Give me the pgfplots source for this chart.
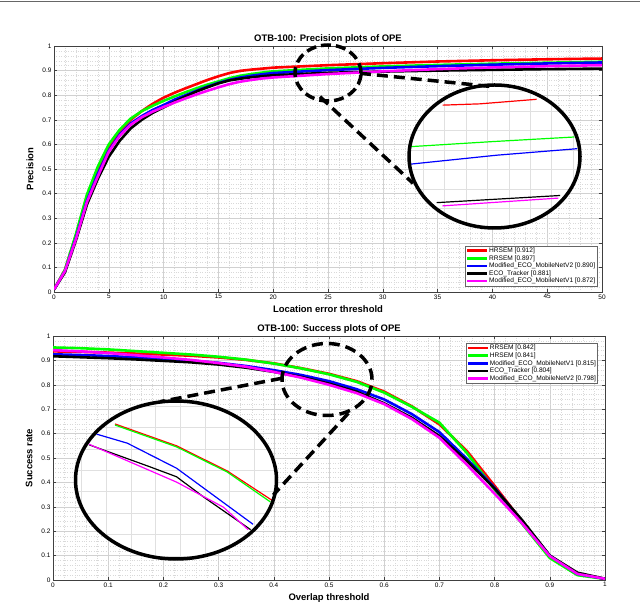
\documentclass[border=0pt]{standalone}
\usepackage{fontspec}
\setmainfont{Liberation Sans}
\usepackage{pgfplots}
\pgfplotsset{compat=1.18}

\definecolor{mred}{RGB}{255,0,0}
\definecolor{mgreen}{RGB}{0,255,0}
\definecolor{mblue}{RGB}{0,0,255}
\definecolor{mmag}{RGB}{255,0,255}

\pgfplotsset{
  matlab/.style={
    scale only axis,
    tick align=inside,
    grid=both,
    major grid style={black!18, line width=0.4bp},
    minor grid style={black!15, dotted, line width=0.4bp},
    minor tick num=4,
    minor tick length=0pt,
    major tick length=3bp,
    axis line style={black!75, line width=0.6bp},
    tick style={black!75, line width=0.5bp},
    ymin=0, ymax=1,
    ytick={0,0.1,0.2,0.3,0.4,0.5,0.6,0.7,0.8,0.9,1},
    tick label style={font=\fontsize{6.5}{7}\selectfont, /pgf/number format/assume math mode=true},
    yticklabel style={/pgf/number format/fixed, /pgf/number format/precision=1, xshift=1bp},
    xticklabel style={yshift=1bp},
    every axis title shift=0pt,
    title style={font=\bfseries\fontsize{9.5}{11}\selectfont, at={(0.5,1)}, anchor=south, yshift=1bp, inner sep=1bp},
    every axis x label/.style={at={(axis description cs:0.5,0)}, anchor=north, yshift=-10bp, font=\bfseries\fontsize{9.5}{11}\selectfont},
    every axis y label/.style={at={(axis description cs:0,0.5)}, rotate=90, anchor=south, yshift=17bp, font=\bfseries\fontsize{9.5}{11}\selectfont},
    legend style={font=\fontsize{6.6}{7}\selectfont, draw=black!60, line width=0.4bp, inner sep=1bp, row sep=0pt, fill=white,
      nodes={inner sep=0.7bp, text height=4.9bp, text depth=1.3bp}},
    legend cell align=left,
    legend image code/.code={\draw[#1, line width=2.5bp] (0bp,0bp) -- (20bp,0bp);},
    every axis plot/.append style={line width=2.6bp},
  },
  inset/.style={
    scale only axis,
    axis line style={draw=none},
    grid=major,
    major grid style={black!12, line width=0.5bp},
    major tick length=0pt,
    xticklabels={}, yticklabels={},
    every axis plot/.append style={line width=1.2bp},
  }
}

\begin{document}
\begin{tikzpicture}
\useasboundingbox (0bp,0bp) rectangle (640bp,602bp);
\draw[black!60, line width=1bp] (0bp,600.5bp) -- (640bp,600.5bp);

% ---------- Precision plot ----------
\begin{axis}[matlab,
  at={(54bp,310bp)}, anchor=south west, width=548bp, height=246bp,
  xmin=0, xmax=50, xtick={0,5,...,50},
  title={OTB-100: Precision plots of OPE},
  xlabel={Location error threshold}, ylabel={Precision},
  legend style={at={(0.991,0.024)}, anchor=south east},
]
\addplot[mred] coordinates {(0,0.01)(1,0.09)(2,0.23)(3,0.39)(4,0.50)(5,0.59)(6,0.655)(7,0.70)(8,0.735)(9,0.765)(10,0.79)(11,0.81)(12,0.828)(13,0.845)(14,0.862)(15,0.877)(16,0.89)(17,0.899)(18,0.904)(19,0.908)(20,0.912)(25,0.922)(30,0.93)(35,0.937)(40,0.942)(45,0.946)(50,0.949)};
\addlegendentry{HRSEM [0.912]}
\addplot[mgreen] coordinates {(0,0.01)(1,0.09)(2,0.235)(3,0.395)(4,0.51)(5,0.60)(6,0.66)(7,0.705)(8,0.735)(9,0.757)(10,0.777)(11,0.795)(12,0.812)(13,0.828)(14,0.843)(15,0.856)(16,0.869)(17,0.879)(18,0.886)(19,0.892)(20,0.897)(25,0.909)(30,0.917)(35,0.923)(40,0.928)(45,0.932)(50,0.936)};
\addlegendentry{RRSEM [0.897]}
\addplot[mblue] coordinates {(0,0.01)(1,0.085)(2,0.22)(3,0.37)(4,0.48)(5,0.575)(6,0.64)(7,0.685)(8,0.715)(9,0.74)(10,0.76)(11,0.782)(12,0.80)(13,0.818)(14,0.835)(15,0.85)(16,0.862)(17,0.872)(18,0.879)(19,0.885)(20,0.890)(25,0.902)(30,0.911)(35,0.918)(40,0.924)(45,0.929)(50,0.933)};
\addlegendentry{Modified\_ECO\_MobileNetV2 [0.890]}
\addplot[black] coordinates {(0,0.01)(1,0.08)(2,0.21)(3,0.355)(4,0.46)(5,0.55)(6,0.615)(7,0.665)(8,0.70)(9,0.728)(10,0.75)(11,0.773)(12,0.795)(13,0.815)(14,0.832)(15,0.848)(16,0.86)(17,0.867)(18,0.873)(19,0.877)(20,0.881)(25,0.891)(30,0.896)(35,0.900)(40,0.903)(45,0.906)(50,0.908)};
\addlegendentry{ECO\_Tracker [0.881]}
\addplot[mmag] coordinates {(0,0.01)(1,0.085)(2,0.215)(3,0.365)(4,0.47)(5,0.57)(6,0.635)(7,0.68)(8,0.71)(9,0.733)(10,0.752)(11,0.77)(12,0.787)(13,0.803)(14,0.818)(15,0.832)(16,0.845)(17,0.855)(18,0.862)(19,0.868)(20,0.872)(25,0.886)(30,0.897)(35,0.906)(40,0.913)(45,0.918)(50,0.922)};
\addlegendentry{Modified\_ECO\_MobileNetV1 [0.872]}
\end{axis}

% ---------- Success plot ----------
\begin{axis}[matlab,
  at={(53bp,22bp)}, anchor=south west, width=552bp, height=244bp,
  xmin=0, xmax=1, xtick={0,0.1,0.2,0.3,0.4,0.5,0.6,0.7,0.8,0.9,1},
  xticklabel style={/pgf/number format/fixed, /pgf/number format/precision=1},
  title={OTB-100: Success plots of OPE},
  xlabel={Overlap threshold}, ylabel={Success rate},
  legend style={at={(0.987,0.971)}, anchor=north east},
]
\addplot[mred] coordinates {(0,0.937)(0.05,0.935)(0.1,0.932)(0.15,0.928)(0.2,0.924)(0.25,0.919)(0.3,0.912)(0.35,0.902)(0.4,0.888)(0.45,0.868)(0.5,0.845)(0.55,0.815)(0.6,0.772)(0.65,0.712)(0.7,0.638)(0.75,0.528)(0.8,0.386)(0.85,0.24)(0.9,0.097)(0.95,0.025)(1,0.005)};
\addlegendentry{RRSEM [0.842]}
\addplot[mgreen] coordinates {(0,0.953)(0.05,0.95)(0.1,0.945)(0.15,0.938)(0.2,0.931)(0.25,0.924)(0.3,0.915)(0.35,0.903)(0.4,0.887)(0.45,0.867)(0.5,0.843)(0.55,0.812)(0.6,0.768)(0.65,0.71)(0.7,0.645)(0.75,0.52)(0.8,0.37)(0.85,0.23)(0.9,0.09)(0.95,0.02)(1,0.004)};
\addlegendentry{HRSEM [0.841]}
\addplot[mblue] coordinates {(0,0.925)(0.05,0.922)(0.1,0.918)(0.15,0.912)(0.2,0.906)(0.25,0.899)(0.3,0.89)(0.35,0.877)(0.4,0.86)(0.45,0.84)(0.5,0.815)(0.55,0.782)(0.6,0.74)(0.65,0.68)(0.7,0.606)(0.75,0.496)(0.8,0.378)(0.85,0.24)(0.9,0.10)(0.95,0.025)(1,0.005)};
\addlegendentry{Modified\_ECO\_MobileNetV1 [0.815]}
\addplot[black] coordinates {(0,0.917)(0.05,0.913)(0.1,0.909)(0.15,0.904)(0.2,0.898)(0.25,0.892)(0.3,0.883)(0.35,0.87)(0.4,0.853)(0.45,0.832)(0.5,0.805)(0.55,0.772)(0.6,0.724)(0.65,0.665)(0.7,0.59)(0.75,0.488)(0.8,0.375)(0.85,0.245)(0.9,0.10)(0.95,0.03)(1,0.005)};
\addlegendentry{ECO\_Tracker [0.804]}
\addplot[mmag] coordinates {(0,0.942)(0.05,0.937)(0.1,0.93)(0.15,0.921)(0.2,0.912)(0.25,0.902)(0.3,0.889)(0.35,0.874)(0.4,0.853)(0.45,0.829)(0.5,0.80)(0.55,0.766)(0.6,0.721)(0.65,0.66)(0.7,0.583)(0.75,0.472)(0.8,0.354)(0.85,0.232)(0.9,0.098)(0.95,0.025)(1,0.005)};
\addlegendentry{Modified\_ECO\_MobileNetV2 [0.798]}
\end{axis}

% ---------- zoom inset, precision ----------
\begin{scope}
\fill[white] (494.5bp,445.5bp) ellipse [x radius=85.5bp, y radius=71.5bp];
\clip (494.5bp,445.5bp) ellipse [x radius=85.5bp, y radius=71.5bp];
\begin{axis}[inset, at={(409bp,374bp)}, anchor=south west, width=171bp, height=143bp,
  xmin=22, xmax=28, ymin=0.78, ymax=1.0, xtick distance=0.75, ytick distance=0.03]
\addplot[mred] coordinates {(23.18,0.969)(24.49,0.971)(26.48,0.978)};
\addplot[mgreen] coordinates {(22.0,0.905)(24.96,0.913)(27.8,0.920)};
\addplot[mblue] coordinates {(22.0,0.878)(25.08,0.892)(27.9,0.902)};
\addplot[black] coordinates {(22.97,0.819)(27.30,0.830)};
\addplot[mmag] coordinates {(23.17,0.814)(27.24,0.826)};
\end{axis}
\end{scope}
\draw[black, line width=3.5bp] (494.5bp,445.5bp) ellipse [x radius=85.5bp, y radius=71.5bp];
\draw[black, line width=3.5bp, dash pattern=on 10bp off 5bp] (328bp,529bp) ellipse [x radius=33bp, y radius=28bp];
\draw[black, line width=3.5bp, dash pattern=on 11bp off 6bp] (360bp,528.7bp) -- (493bp,515.3bp);
\draw[black, line width=3.5bp, dash pattern=on 11bp off 6bp] (320bp,505.3bp) -- (413bp,418.7bp);

% ---------- zoom inset, success ----------
\begin{scope}
\fill[white] (176bp,122bp) ellipse [x radius=100.5bp, y radius=79bp];
\clip (176bp,122bp) ellipse [x radius=100.5bp, y radius=79bp];
\begin{axis}[inset, at={(75.5bp,43bp)}, anchor=south west, width=201bp, height=158bp,
  xmin=0.415, xmax=0.578, ymin=0.674, ymax=0.97, xtick distance=0.02, ytick distance=0.04]
\addplot[mred] coordinates {(0.447,0.927)(0.497,0.886)(0.538,0.839)(0.575,0.783)};
\addplot[mgreen] coordinates {(0.447,0.925)(0.497,0.884)(0.538,0.837)(0.573,0.781)};
\addplot[mblue] coordinates {(0.432,0.908)(0.457,0.891)(0.497,0.844)(0.559,0.739)};
\addplot[black] coordinates {(0.426,0.888)(0.475,0.847)(0.497,0.828)(0.519,0.790)(0.557,0.729)};
\addplot[mmag] coordinates {(0.426,0.889)(0.497,0.818)(0.535,0.771)(0.555,0.729)};
\end{axis}
\end{scope}
\draw[black, line width=3.5bp] (176bp,122bp) ellipse [x radius=100.5bp, y radius=79bp];
\draw[black, line width=3.5bp, dash pattern=on 11bp off 6bp] (327bp,222.5bp) ellipse [x radius=45bp, y radius=36bp];
\draw[black, line width=3.5bp, dash pattern=on 11bp off 6bp] (281.7bp,223.7bp) -- (160bp,200.3bp);
\draw[black, line width=3.5bp, dash pattern=on 11bp off 6bp] (348.3bp,188.7bp) -- (273.3bp,107bp);
\end{tikzpicture}
\end{document}
